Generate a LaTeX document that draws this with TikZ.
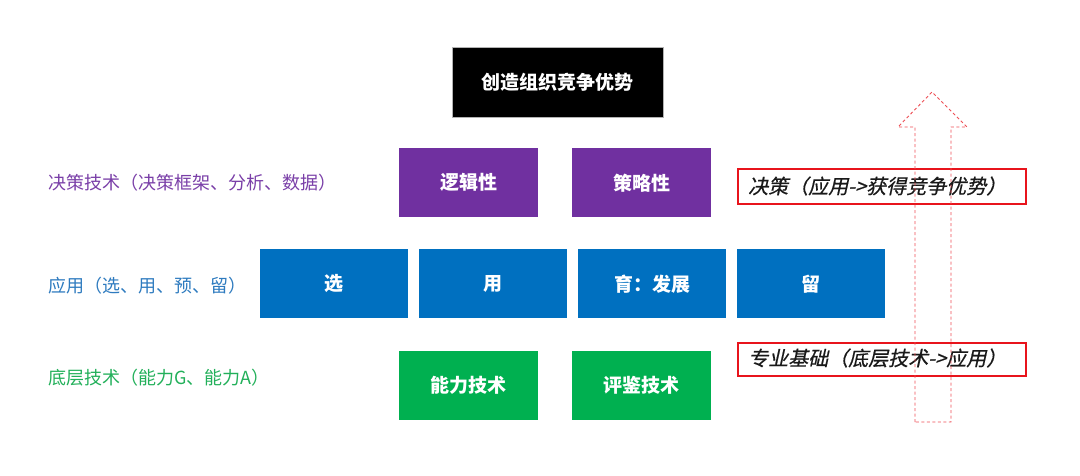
\documentclass[tikz,border=0pt]{standalone}
\usepackage{fontspec}
\setmainfont{Noto Sans CJK SC}
\newfontfamily\cjkslant{Noto Sans CJK SC}[FakeSlant=0.22, FakeBold=0.6]
\definecolor{cpurple}{HTML}{7030A0}
\definecolor{cblue}{HTML}{0070C0}
\definecolor{cgreen}{HTML}{00B050}
\definecolor{lpurple}{HTML}{7A3FA8}
\definecolor{lblue}{HTML}{2E7BBF}
\definecolor{lgreen}{HTML}{22B05A}
\definecolor{cred}{HTML}{E8141C}
\tikzset{
  blk/.style={draw=none, text=white, inner sep=0pt, anchor=north west, font=\fontsize{19}{20}\selectfont\bfseries},
  lbl/.style={anchor=west, inner sep=0pt, font=\fontsize{18}{19}\selectfont},
  redbox/.style={draw=cred, line width=2pt, anchor=north west, inner sep=0pt},
  redtxt/.style={anchor=west, inner sep=0pt, text=black!90, font=\cjkslant\fontsize{20}{21}\selectfont},
}
\begin{document}
\begin{tikzpicture}[x=1pt,y=-1pt]
\useasboundingbox (0,0) rectangle (1080,475);
\fill[white] (0,0) rectangle (1080,475);
% top
\node[blk, fill=black, draw=gray!60, minimum width=211pt, minimum height=70pt] (top) at (452,47) {};
\node[text=white, font=\fontsize{19}{20}\selectfont\bfseries] (toptxt) at (top.center) {创造组织竞争优势};
% purple
\node[blk, fill=cpurple, minimum width=139pt, minimum height=69pt] (p1) at (399,148) {逻辑性};
\node[blk, fill=cpurple, minimum width=139pt, minimum height=69pt] (p2) at (572,148) {策略性};
% blue
\node[blk, fill=cblue, minimum width=148pt, minimum height=69pt] (b1) at (260,249) {选};
\node[blk, fill=cblue, minimum width=148pt, minimum height=69pt] (b2) at (419,249) {用};
\node[blk, fill=cblue, minimum width=148pt, minimum height=69pt] (b3) at (578,249) {育：发展};
\node[blk, fill=cblue, minimum width=148pt, minimum height=69pt] (b4) at (737,249) {留};
% green
\node[blk, fill=cgreen, minimum width=139pt, minimum height=69pt] (g1) at (399,351) {能力技术};
\node[blk, fill=cgreen, minimum width=139pt, minimum height=69pt] (g2) at (572,351) {评鉴技术};
% left labels
\node[lbl, text=lpurple] (l1) at (48,183) {决策技术（决策框架、分析、数据）};
\node[lbl, text=lblue] (l2) at (48,286) {应用（选、用、预、留）};
\node[lbl, text=lgreen] (l3) at (48,378) {底层技术（能力G、能力A）};
% red boxes
\node[redbox, minimum width=288pt, minimum height=35pt] (r1) at (737,168) {};
\node[redtxt] (r1t) at (748,186) {决策（应用->获得竞争优势）};
\node[redbox, minimum width=288pt, minimum height=33pt] (r2) at (737,342) {};
\node[redtxt] (r2t) at (748,358) {专业基础（底层技术->应用）};
% dashed arrow
\coordinate (tip) at (932,92);
\draw[cred!75, line width=0.9pt, dash pattern=on 3pt off 2.5pt]
  (915,422) -- (915,127) -- (898,127) -- (tip) -- (967,127) -- (951,127) -- (951,422) -- cycle;
\end{tikzpicture}
\end{document}
